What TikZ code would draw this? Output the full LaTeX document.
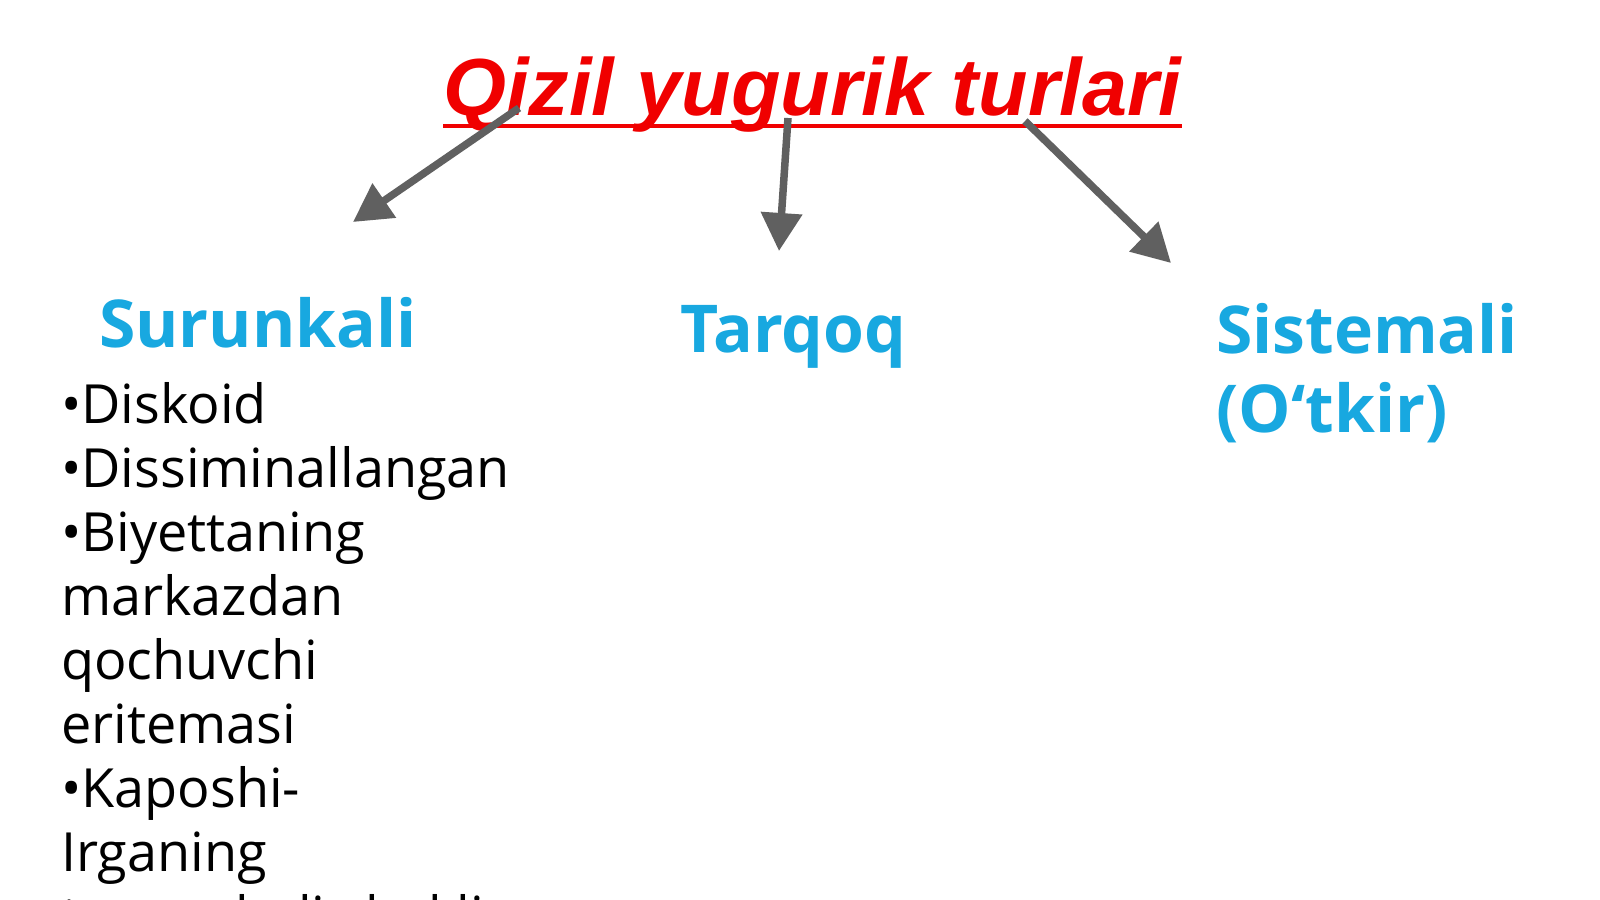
\documentclass[tikz,border=0pt]{standalone}
\usepackage{fontspec}
\setmainfont{Open Sans}
\newfontfamily\titlefont{Liberation Sans}
\usetikzlibrary{arrows.meta}
\definecolor{titlered}{RGB}{240,0,0}
\definecolor{headcyan}{RGB}{24,168,224}
\definecolor{arrowgray}{RGB}{96,96,96}
\tikzset{
  titletext/.style={anchor=base west, inner sep=0pt, text=titlered, font=\titlefont\bfseries\itshape\fontsize{81}{90}\selectfont},
  headtext/.style={anchor=base west, inner sep=0pt, text=headcyan, align=left, font=\bfseries\fontsize{66}{79}\selectfont},
  bodytext/.style={anchor=base west, inner sep=0pt, text=black, align=left, font=\fontsize{54}{64}\selectfont},
  bigarrow/.style={draw=arrowgray, line width=7.5pt, -{Triangle[length=38pt,width=40pt]}, fill=arrowgray},
}
\begin{document}
\begin{tikzpicture}[x=1pt,y=-1pt]
\useasboundingbox (0,0) rectangle (1600,899);
\clip (0,0) rectangle (1600,899);
\fill[white] (0,0) rectangle (1600,899);
\node[titletext] (title) at (443,115) {Qizil yugurik turlari};
\coordinate (ul1) at (443,126);
\coordinate (ul2) at (1182,126);
\draw[titlered, line width=4pt] (ul1) -- (ul2);
\node[headtext] (sur) at (99,347) {Surunkali};
\node[headtext] (tar) at (680,352) {Tarqoq};
\node[headtext] (sis) at (1216,432) {Sistemali\\(O‘tkir)};
\node[bodytext] (list) at (61,935) {•Diskoid\\•Dissiminallangan\\•Biyettaning\\markazdan\\qochuvchi\\eritemasi\\•Kaposhi-\\Irganing\\tugunchali shakli};
\coordinate (s1) at (519,108);
\coordinate (t1) at (353,222);
\coordinate (s2) at (788,118);
\coordinate (t2) at (779,251);
\coordinate (s3) at (1025,121);
\coordinate (t3) at (1171,263);
\draw[bigarrow] (s1) -- (t1);
\draw[bigarrow] (s2) -- (t2);
\draw[bigarrow] (s3) -- (t3);
\end{tikzpicture}
\end{document}
